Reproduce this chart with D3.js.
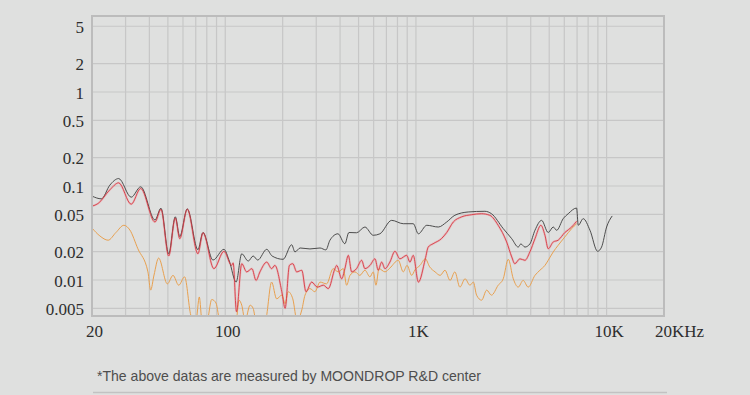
<!DOCTYPE html>
<html>
<head>
<meta charset="utf-8">
<script src="https://cdn.jsdelivr.net/npm/d3@7"></script>
<style>
  html, body { margin: 0; padding: 0; background: #dfe0df; }
  svg { display: block; }
</style>
</head>
<body>
<div id="chart"></div>
<script>
// Distortion curves: [frequency Hz, value]
const blackCurve = [
  [20, 0.078], [22.4, 0.073], [24.8, 0.102], [27.6, 0.12], [32.1, 0.076], [36.0, 0.098],
  [42.8, 0.0435], [46.0, 0.058], [50.5, 0.019], [54.7, 0.047], [57.7, 0.029], [63.2, 0.057],
  [71.9, 0.021], [76.4, 0.032], [86.2, 0.0163], [98.4, 0.0212], [105, 0.0159], [114, 0.0095],
  [122, 0.019], [132, 0.0159], [140, 0.018], [148, 0.0163], [165, 0.0212], [176, 0.018],
  [201, 0.0166], [223, 0.0237], [232, 0.0199], [247, 0.0219], [278, 0.0214], [314, 0.0219],
  [337, 0.0209], [354, 0.0265], [390, 0.031], [424, 0.0243], [445, 0.032], [488, 0.0318],
  [540, 0.0366], [597, 0.0299], [647, 0.031], [746, 0.0431], [858, 0.0397], [968, 0.0397],
  [1030, 0.031], [1140, 0.0382], [1310, 0.0366], [1450, 0.0414], [1600, 0.0488], [1880, 0.0529],
  [2300, 0.0538], [2490, 0.0507], [2870, 0.0352], [3180, 0.0275], [3440, 0.0224], [3550, 0.0242],
  [3730, 0.0224], [3960, 0.0242], [4210, 0.0338], [4560, 0.0431], [4940, 0.032], [5250, 0.0366],
  [5470, 0.0338], [5920, 0.0449], [6290, 0.0507], [6960, 0.0583], [7100, 0.0382], [7540, 0.0449],
  [8180, 0.0338], [8970, 0.0202], [9410, 0.0224], [10000, 0.0366], [10700, 0.048]
];

const redCurve = [
  [20, 0.061], [21.5, 0.065], [24.8, 0.091], [27.6, 0.108], [32.1, 0.064], [36.0, 0.094],
  [42.8, 0.0414], [46.0, 0.0565], [50.5, 0.018], [54.7, 0.0457], [57.7, 0.0275], [63.2, 0.0565],
  [71.9, 0.019], [76.4, 0.0318], [87.2, 0.0132], [98.4, 0.0202], [108, 0.0143], [110, 0.0152],
  [114.5, 0.0046], [122, 0.0149], [129.5, 0.0122], [138, 0.0132], [145, 0.0099], [152, 0.0122],
  [165, 0.0155], [175, 0.0132], [182, 0.0143], [198, 0.0075], [206, 0.005], [217, 0.0143],
  [226, 0.0149], [237, 0.0122], [252, 0.0127], [265, 0.0075], [284, 0.0095], [304, 0.0084],
  [327, 0.0088], [347, 0.0081], [376, 0.0132], [384, 0.0143], [408, 0.0103], [424, 0.0132],
  [442, 0.0183], [460, 0.0122], [488, 0.0132], [519, 0.0162], [540, 0.0132], [574, 0.0143],
  [610, 0.0168], [634, 0.0127], [661, 0.0155], [688, 0.0132], [730, 0.0155], [776, 0.0202],
  [824, 0.0168], [894, 0.0183], [930, 0.0155], [968, 0.0183], [1030, 0.0095], [1120, 0.0168],
  [1160, 0.0224], [1230, 0.0243], [1360, 0.0275], [1450, 0.032], [1570, 0.0414], [1740, 0.047],
  [1960, 0.0495], [2210, 0.0507], [2440, 0.0488], [2700, 0.0382], [2990, 0.0254], [3180, 0.0176],
  [3300, 0.0149], [3510, 0.0168], [3730, 0.0162], [3960, 0.0199], [4210, 0.0275], [4520, 0.0382],
  [4750, 0.0299], [4940, 0.0215], [5250, 0.0254], [5570, 0.0265], [6040, 0.032], [6560, 0.0366],
  [6960, 0.0421]
];

const orangeCurve = [
  [20, 0.0357], [22.0, 0.0294], [24.3, 0.0265], [26.7, 0.032], [29.4, 0.0382], [31.6, 0.034],
  [34.8, 0.0215], [39.3, 0.0122], [40.6, 0.0078], [42.3, 0.0113], [44.7, 0.0171], [49.7, 0.0091],
  [53.2, 0.0112], [57.0, 0.0088], [61.2, 0.0108], [66.3, 0.0041], [70.2, 0.0037], [73.1, 0.0066],
  [75.5, 0.0037], [80.2, 0.0037], [84.9, 0.0062], [89.4, 0.0057], [93.8, 0.0037], [114, 0.0037],
  [118, 0.0061], [122, 0.0054], [127, 0.0037], [135, 0.0054], [140, 0.005], [145, 0.0037],
  [162, 0.0037], [175, 0.0095], [186, 0.0063], [198, 0.0069], [206, 0.0056], [214, 0.0075],
  [226, 0.0063], [238, 0.0037], [252, 0.0048], [262, 0.0069], [278, 0.0081], [295, 0.0075],
  [314, 0.0095], [340, 0.0091], [368, 0.0132], [391, 0.0122], [416, 0.0132], [433, 0.0088],
  [451, 0.0112], [479, 0.0122], [508, 0.0112], [540, 0.0127], [574, 0.0108], [597, 0.0122],
  [617, 0.0088], [640, 0.0132], [688, 0.0122], [730, 0.0134], [808, 0.0162], [858, 0.0122],
  [898, 0.0143], [950, 0.0112], [988, 0.0128], [1050, 0.0143], [1120, 0.0168], [1180, 0.0138],
  [1260, 0.0122], [1340, 0.0112], [1420, 0.0127], [1510, 0.0099], [1600, 0.0122], [1700, 0.0084],
  [1810, 0.0103], [1920, 0.0088], [2000, 0.0095], [2080, 0.0069], [2210, 0.0061], [2350, 0.0078],
  [2490, 0.0069], [2700, 0.0088], [2870, 0.0103], [3050, 0.0166], [3240, 0.0103], [3440, 0.0084],
  [3650, 0.0099], [3880, 0.0084], [4210, 0.0112], [4470, 0.0127], [4750, 0.0143], [4940, 0.0162],
  [5250, 0.0199], [5570, 0.0234], [6040, 0.0287], [6560, 0.0352], [6960, 0.0397]
];

const xTicks = [20, 100, 1000, 10000, 20000];
const xTickLabels = ["20", "100", "1K", "10K", "20KHz"];
const xGrid = [30, 40, 50, 60, 70, 80, 90, 100, 200, 300, 400, 500, 600, 700, 800, 900,
  1000, 2000, 3000, 4000, 5000, 6000, 7000, 8000, 9000, 10000];
const yTicks = [5, 2, 1, 0.5, 0.2, 0.1, 0.05, 0.02, 0.01, 0.005];
const yTickLabels = ["5", "2", "1", "0.5", "0.2", "0.1", "0.05", "0.02", "0.01", "0.005"];
const note = "*The above datas are measured by MOONDROP R&D center";

const width = 750, height = 395;
const plot = { left: 92, right: 664, top: 16, bottom: 316 };
const labelFont = '"Liberation Serif", "DejaVu Serif", serif';

const svg = d3.select("#chart").append("svg")
  .attr("width", width)
  .attr("height", height);

svg.append("rect").attr("width", width).attr("height", height).attr("fill", "#dfe0df");

// 1. Scales (log on both axes)
const x = d3.scaleLog().domain([20, 20000]).range([plot.left, plot.right]);
const y = d3.scaleLog().domain([0.00414, 6.43]).range([plot.bottom, plot.top]);

// 2. Grid
const grid = svg.append("g").attr("stroke", "#c7c7c7").attr("stroke-width", 1.2);
grid.selectAll(".vgrid").data(xGrid).join("line")
  .attr("class", "vgrid")
  .attr("x1", d => x(d)).attr("x2", d => x(d))
  .attr("y1", plot.top).attr("y2", plot.bottom);
grid.selectAll(".hgrid").data(yTicks).join("line")
  .attr("class", "hgrid")
  .attr("x1", plot.left).attr("x2", plot.right)
  .attr("y1", d => y(d)).attr("y2", d => y(d));

// frame
svg.append("rect")
  .attr("x", plot.left).attr("y", plot.top)
  .attr("width", plot.right - plot.left).attr("height", plot.bottom - plot.top)
  .attr("fill", "none").attr("stroke", "#bcbcbc").attr("stroke-width", 2);

// 3. Axes (labels only, the grid already draws the lines)
const xAxis = d3.axisBottom(x).tickValues(xTicks).tickSize(0).tickPadding(0)
  .tickFormat((d, i) => xTickLabels[i]);
const gx = svg.append("g").attr("transform", `translate(2,${plot.bottom + 21})`).call(xAxis);
gx.select(".domain").remove();
gx.selectAll("text")
  .attr("dy", null)
  .attr("dx", d => d === 20000 ? 13 : 0);

const yAxis = d3.axisLeft(y).tickValues(yTicks).tickSize(0).tickPadding(8)
  .tickFormat((d, i) => yTickLabels[i]);
const gy = svg.append("g").attr("transform", `translate(${plot.left},0)`).call(yAxis);
gy.select(".domain").remove();
gy.selectAll("text").attr("dy", "0.36em");

svg.selectAll(".tick text")
  .style("font-family", labelFont)
  .style("font-size", "17px")
  .style("fill", "#2e2e2e");

// 4. Curves, clipped to the plot area
svg.append("clipPath").attr("id", "plot-clip").append("rect")
  .attr("x", plot.left + 1).attr("y", plot.top + 1)
  .attr("width", plot.right - plot.left - 2).attr("height", plot.bottom - plot.top - 2);

const line = d3.line()
  .x(d => x(d[0]))
  .y(d => y(d[1]))
  .curve(d3.curveMonotoneX);

const curves = svg.append("g").attr("clip-path", "url(#plot-clip)").attr("fill", "none");
const series = [
  { name: "orange", data: orangeCurve, color: "#e8a04f", w: 1.0 },
  { name: "black", data: blackCurve, color: "#3c3c3c", w: 0.9 },
  { name: "red", data: redCurve, color: "#d63a44", w: 0.9 }
];
curves.selectAll(".halo").data(series.filter(s => s.name === "red")).join("path")
  .attr("class", "halo")
  .attr("d", s => line(s.data))
  .attr("stroke", "#eaa9ae").attr("stroke-width", 2.2).attr("opacity", 0.6);
curves.selectAll(".curve").data(series).join("path")
  .attr("class", "curve")
  .attr("d", s => line(s.data))
  .attr("stroke", s => s.color)
  .attr("stroke-width", s => s.w)
  .attr("stroke-linejoin", "round");

// 5. Footnote
svg.append("text")
  .attr("x", 97).attr("y", 381)
  .attr("textLength", 384).attr("lengthAdjust", "spacingAndGlyphs")
  .style("font-family", '"Liberation Sans", Arial, sans-serif')
  .style("font-size", "15px")
  .style("fill", "#4e4e4e")
  .text(note);
svg.append("line")
  .attr("x1", 93).attr("x2", 667).attr("y1", 392.5).attr("y2", 392.5)
  .attr("stroke", "#c2c2c2").attr("stroke-width", 1.5);
</script>
</body>
</html>
